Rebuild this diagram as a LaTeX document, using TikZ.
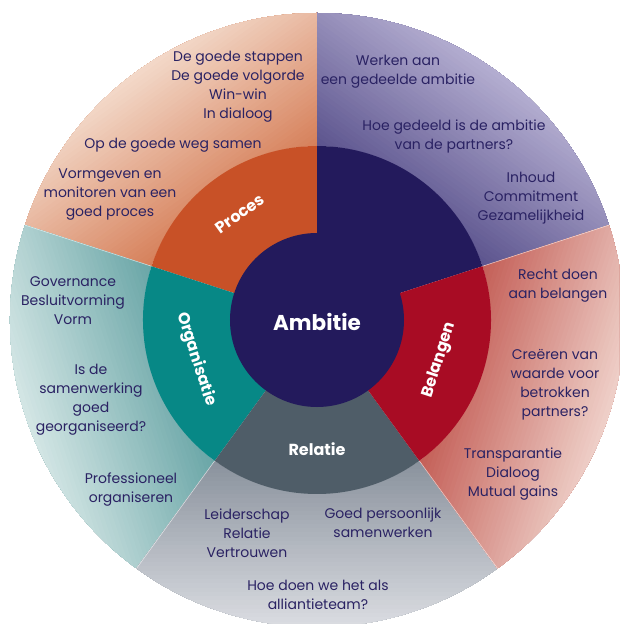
\documentclass[tikz,border=0pt]{standalone}
\usepackage{fontspec}
\setmainfont{Poppins}
\definecolor{navy}{HTML}{231A5C}
\definecolor{txt}{HTML}{2A2263}
\definecolor{procM}{HTML}{C85127}
\definecolor{orgM}{HTML}{078886}
\definecolor{relM}{HTML}{4F5D68}
\definecolor{belM}{HTML}{A80C24}
\definecolor{procD}{HTML}{D6805A}
\definecolor{procL}{HTML}{F4DCCD}
\definecolor{ambD}{HTML}{5C548E}
\definecolor{ambL}{HTML}{B7B1D3}
\definecolor{belD}{HTML}{C45F57}
\definecolor{belL}{HTML}{F0D4CD}
\definecolor{relD}{HTML}{8A929D}
\definecolor{relL}{HTML}{DDDFE4}
\definecolor{orgD}{HTML}{6AA6A7}
\definecolor{orgL}{HTML}{D7E8E7}
\def\Ra{87}
\def\Rb{174}
\def\Rc{307}
\tikzset{
  outertext/.style={text=txt, align=center, font=\fontsize{14}{19}\selectfont, inner sep=0pt},
  ringlabel/.style={text=white, font=\fontsize{16}{19}\selectfont\bfseries, inner sep=0pt},
  sepline/.style={white, line width=0.6pt, opacity=0.6},
}
\newcommand\GradSector[4]{%
  \begin{scope}
    \clip (#1:\Rb) arc[start angle=#1,end angle=#2,radius=\Rb] -- (#2:\Rc) arc[start angle=#2,end angle=#1,radius=\Rc] -- cycle;
    \fill[#3] (0,0) circle[radius=\Rc+5];
    \pgfmathsetmacro\mybis{(#1+#2)/2-90}
    \begin{scope}[rotate=\mybis]
      \foreach \i in {1,...,40}{
        \pgfmathsetmacro\myT{140+\i*(310-140)/40}
        \pgfmathsetmacro\myP{\i*2.5}
        \fill[#4!\myP!#3] (-330,\myT) rectangle (330,340);
      }
    \end{scope}
  \end{scope}}
\newcommand\MidSector[3]{%
  \fill[#3] (0,0) -- (#1:\Rb) arc[start angle=#1,end angle=#2,radius=\Rb] -- cycle;}
\begin{document}
\begin{tikzpicture}[x=1pt,y=1pt]
  \fill[white] (-317,-304) rectangle (302,320);
  \begin{scope}
    \clip (-317,-304) rectangle (302,320);
    % outer ring
    \GradSector{18}{90}{ambD}{ambL}
    \GradSector{90}{162}{procD}{procL}
    \GradSector{162}{234}{orgD}{orgL}
    \GradSector{234}{306}{relD}{relL}
    \GradSector{306}{378}{belD}{belL}
    \foreach \a in {18,162,234,306}{
      \draw[sepline] (\a:\Rb) -- (\a:\Rc);
    }
    % middle ring
    \MidSector{18}{90}{navy}
    \MidSector{90}{162}{procM}
    \MidSector{162}{234}{orgM}
    \MidSector{234}{306}{relM}
    \MidSector{306}{378}{belM}
    % inner circle
    \fill[navy] (0,0) circle[radius=\Ra];
  \end{scope}
  % labels
  \node[ringlabel, font=\fontsize{21.5}{26}\selectfont\bfseries] (ambitie) at (0,-2) {Ambitie};
  \node[ringlabel, rotate=36] (proces) at (126:131) {Proces};
  \node[ringlabel, rotate=-72] (organisatie) at (198:127) {Organisatie};
  \node[ringlabel] (relatie) at (270:129) {Relatie};
  \node[ringlabel, rotate=72] (belangen) at (-18:129) {Belangen};
  % Proces texts
  \node[outertext] (p1) at (-79,233.5) {De goede stappen\\De goede volgorde\\Win-win\\In dialoog};
  \node[outertext] (p2) at (-144,175) {Op de goede weg samen};
  \node[outertext] (p3) at (-207,125) {Vormgeven en\\monitoren van een\\goed proces};
  % Ambitie texts
  \node[outertext] (a1) at (81,248.5) {Werken aan\\een gedeelde ambitie};
  \node[outertext] (a2) at (137,183.5) {Hoe gedeeld is de ambitie\\van de partners?};
  \node[outertext] (a3) at (214,122) {Inhoud\\Commitment\\Gezamelijkheid};
  % Belangen texts
  \node[outertext] (b1) at (241,34.5) {Recht doen\\aan belangen};
  \node[outertext] (b2) at (238,-65) {Creëren van\\waarde voor\\betrokken\\partners?};
  \node[outertext] (b3) at (196,-154) {Transparantie\\Dialoog\\Mutual gains};
  % Relatie texts
  \node[outertext] (r1) at (-70,-213) {Leiderschap\\Relatie\\Vertrouwen};
  \node[outertext] (r2) at (66,-202.5) {Goed persoonlijk\\samenwerken};
  \node[outertext] (r3) at (1,-274.5) {Hoe doen we het als\\alliantieteam?};
  % Organisatie texts
  \node[outertext] (o1) at (-244,19) {Governance\\Besluitvorming\\Vorm};
  \node[outertext] (o2) at (-226,-80) {Is de\\samenwerking\\goed\\georganiseerd?};
  \node[outertext] (o3) at (-186,-170) {Professioneel\\organiseren};
  \pgfresetboundingbox
  \useasboundingbox (-317,-304) rectangle (302,320);
\end{tikzpicture}
\end{document}
